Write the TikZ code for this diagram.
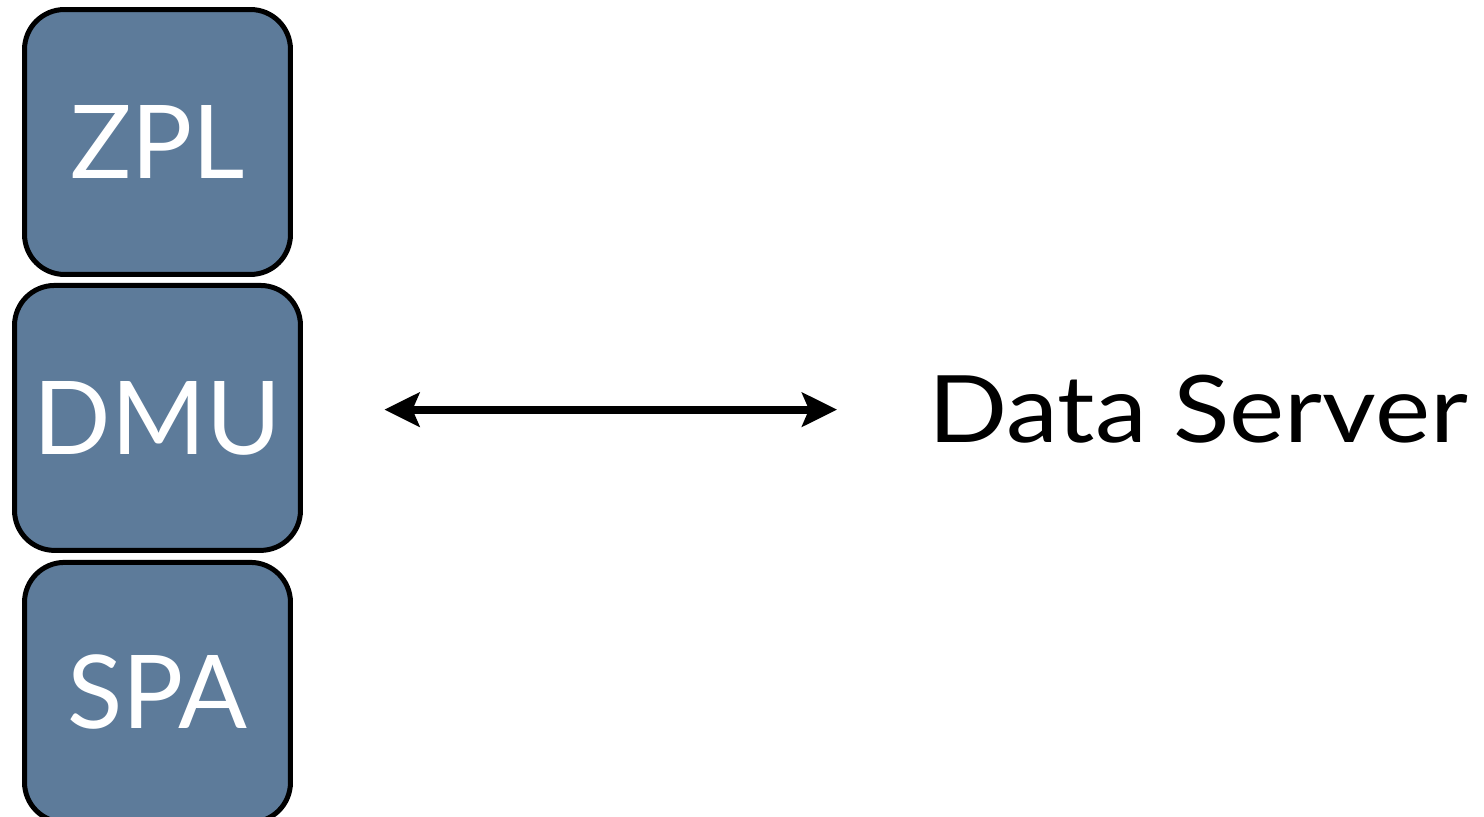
\documentclass[tikz,border=0pt]{standalone}
\usepackage{fontspec}
\setmainfont{Lato}
\newfontfamily\serverfont[FakeStretch=1.12]{Lato}
\usepackage{tikz}
\usetikzlibrary{arrows.meta,positioning}
\definecolor{slate}{RGB}{93,123,154}
\tikzset{layer/.style={draw=black,line width=0.1cm,fill=slate,rounded corners=0.8cm,
  text=white,font=\fontsize{58}{60}\selectfont,minimum height=5.3cm,minimum width=5.32cm,inner sep=0pt}}

\begin{document}
\begin{tikzpicture}[x=0.02cm,y=0.02cm]
\useasboundingbox (0,0) rectangle (1484,817);
\node[layer](zpl) at (157.5,675){ZPL};
\node[layer,minimum width=5.72cm,below=0.12cm of zpl](dmu){DMU};
\node[layer,minimum height=5.2cm,below=0.14cm of dmu](spa){SPA};
\node[anchor=base west,inner sep=0pt,font=\serverfont\fontsize{53}{55}\selectfont](server) at (928,374){Data Server};
\draw[{Stealth[length=0.7cm,width=0.68cm,inset=0.14cm]}-{Stealth[length=0.7cm,width=0.68cm,inset=0.14cm]},
  line width=0.16cm,shorten <=1.63cm,shorten >=1.82cm](dmu.east |- server.west)--(server.west);
\end{tikzpicture}
\end{document}
